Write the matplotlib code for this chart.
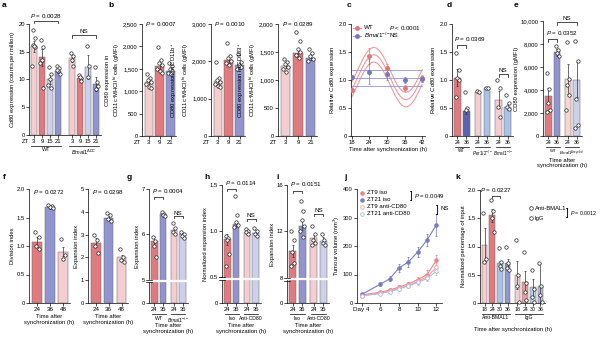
import numpy as np
import matplotlib
matplotlib.use("Agg")
import matplotlib.pyplot as plt
from matplotlib.ticker import FuncFormatter

plt.rcParams['font.family'] = ['Liberation Sans', 'DejaVu Sans']
plt.rcParams['mathtext.fontset'] = 'custom'
plt.rcParams['mathtext.rm'] = 'Liberation Sans'
plt.rcParams['mathtext.it'] = 'Liberation Sans:italic'
plt.rcParams['mathtext.bf'] = 'Liberation Sans:bold'
plt.rcParams['font.size'] = 4.2

# colours
PINK = '#f4cdd1'
RED = '#e07a7f'
LAV = '#cdd0eb'
BLUE = '#9195cf'
DBLUE = '#5b63b6'
LBLUE = '#a9c2e6'
PEACH = '#f5d6d0'

# ---------------- data ----------------
# a
a_ticks = ['3', '9', '15', '21', '3', '9', '15', '21']
a_mean = [16.0, 14.0, 10.0, 11.5, 13.8, 10.3, 12.3, 9.2]
a_err = [1.0, 1.5, 0.9, 0.4, 0.6, 0.4, 2.2, 1.2]
a_pts = [[19.0, 17.5, 16.2, 15.8, 12.5, 16.0], [17.2, 15.8, 13.5, 8.5, 13.0],
         [12.3, 11.0, 10.0, 8.5, 9.0], [12.5, 12.0, 11.5, 11.0, 11.8],
         [14.8, 14.2, 13.5, 12.5], [10.8, 10.2, 10.5, 9.8],
         [16.0, 12.5, 10.5], [12.3, 9.5, 8.3, 8.8]]
# b
b_ticks = ['3', '9', '21']
b1_mean = [1200, 1560, 1450]
b1_err = [40, 70, 35]
b1_pts = [[1380, 1300, 1250, 1200, 1150, 1100, 1080], [1980, 1700, 1620, 1580, 1500, 1450, 1400],
          [1640, 1560, 1500, 1450, 1400, 1380]]
b2_mean = [1480, 2030, 1900]
b2_err = [80, 80, 60]
b2_pts = [[1980, 1550, 1500, 1450, 1400, 1350, 1300], [2500, 2150, 2080, 2000, 1950, 1900],
          [2200, 1980, 1900, 1850, 1800]]
b3_mean = [1250, 1480, 1400]
b3_err = [35, 70, 40]
b3_pts = [[1380, 1330, 1280, 1230, 1200, 1150], [1850, 1700, 1560, 1500, 1450, 1400],
          [1560, 1480, 1420, 1380, 1340]]
# c
c_time = [18, 24, 30, 36, 42]
c_wt = [0.82, 1.43, 1.22, 0.86, 1.03]
c_wt_err = [0.04, 0.15, 0.07, 0.05, 0.06]
c_ko = [1.05, 1.15, 1.10, 1.00, 1.02]
c_ko_err = [0.04, 0.22, 0.10, 0.05, 0.05]
c_mesor, c_amp, c_acro, c_period, c_ci = 1.05, 0.40, 25.5, 22.0, 0.13
c_ko_lines = [0.90, 1.03, 1.17]
# d
d_ticks = ['24', '36', '24', '36', '24', '36']
d_mean = [1.04, 0.45, 0.79, 0.85, 0.65, 0.52]
d_err = [0.15, 0.05, 0.02, 0.01, 0.15, 0.05]
d_pts = [[1.48, 1.18, 1.03, 1.0, 0.7], [0.79, 0.5, 0.46], [0.8, 0.78], [0.86, 0.85],
         [1.0, 0.86, 0.52, 0.34], [0.73, 0.59, 0.52, 0.48]]
# e
e_ticks = ['24', '36', '24', '36']
e_mean = [3500, 7300, 4950, 4900]
e_err = [700, 300, 1300, 1500]
e_pts = [[5500, 4100, 2900, 2300, 2100], [7800, 7500, 7200, 7000],
         [8200, 5000, 4400, 3600, 2300], [8300, 6500, 3200, 1000, 700]]
# f
f_ticks = ['24', '36', '48']
f1_mean = [1.07, 1.68, 0.90]
f1_err = [0.08, 0.03, 0.08]
f1_pts = [[1.25, 1.15, 1.0, 0.95], [1.72, 1.70, 1.68, 1.66], [1.12, 0.85, 0.78]]
f2_mean = [2.65, 3.75, 2.0]
f2_err = [0.2, 0.08, 0.1]
f2_pts = [[3.0, 2.75, 2.5, 2.2], [3.95, 3.85, 3.7, 3.6], [2.35, 2.0, 1.9, 1.8]]
# g
g_mean = [5.85, 6.45, 6.10, 6.00]
g_err = [0.1, 0.03, 0.05, 0.03]
g_pts = [[5.95, 5.85, 5.75, 5.5], [6.5, 6.45, 6.42, 6.4], [6.25, 6.15, 6.05, 6.0], [6.05, 6.0, 5.97, 5.92]]
# h
h_mean = [0.91, 1.08, 0.99, 0.98]
h_err = [0.06, 0.03, 0.02, 0.03]
h_pts = [[0.95, 0.93, 0.9, 0.75, 0.62], [1.38, 1.18, 1.1, 1.07, 1.05],
         [1.02, 1.0, 0.99, 0.97], [1.03, 1.0, 0.97, 0.95]]
# i
i_mean = [10.3, 12.5, 11.4, 11.2]
i_err = [0.5, 0.4, 0.3, 0.3]
i_pts = [[12.0, 11.3, 10.2, 9.3, 9.0], [14.6, 13.8, 13.0, 12.5, 12.0, 11.5],
         [12.5, 11.8, 11.3, 11.0, 10.8], [11.8, 11.3, 11.0, 10.8]]
# j
j_days = [4, 6, 7, 8, 9, 10, 11, 12]
j_zt9_iso = [28, 38, 45, 56, 67, 82, 100, 150]
j_zt9_iso_err = [4, 5, 6, 8, 8, 10, 15, 18]
j_zt21_iso = [30, 66, 85, 123, 144, 179, 221, 274]
j_zt21_iso_err = [5, 6, 8, 15, 18, 18, 22, 38]
j_zt9_anti = [26, 35, 42, 52, 62, 76, 92, 125]
j_zt9_anti_err = [3, 4, 5, 6, 7, 8, 10, 15]
j_zt21_anti = [25, 33, 40, 49, 60, 72, 86, 112]
j_zt21_anti_err = [3, 4, 5, 6, 7, 8, 10, 14]
# k
k_ticks = ['18', '24', '30', '36', '18', '24', '30', '36']
k_mean = [1.02, 1.55, 0.70, 0.70, 0.50, 0.37, 0.28, 0.30]
k_err = [0.3, 0.12, 0.05, 0.08, 0.25, 0.2, 0.15, 0.4]
k_pts = [[1.6, 0.78, 0.72], [1.82, 1.62, 1.5, 1.25], [0.98, 0.72, 0.65, 0.6], [1.0, 0.7, 0.62, 0.58],
         [1.12, 0.5, 0.3, 0.02], [0.9, 0.35, 0.2, 0.05], [0.58, 0.25, 0.1, 0.02], [0.7, 0.3, 0.15, 0.02]]

JIT = np.array([-0.16, 0.14, -0.05, 0.2, -0.22, 0.06, 0.22])

W, H = 600, 347
fig = plt.figure(figsize=(6, 3.47), dpi=100)


def make_ax(x0, x1, y0, y1):
    return fig.add_axes([x0 / W, 1 - y1 / H, (x1 - x0) / W, (y1 - y0) / H])


def style(ax):
    for s in ['top', 'right']:
        ax.spines[s].set_visible(False)
    for s in ['left', 'bottom']:
        ax.spines[s].set_linewidth(0.5)
    ax.tick_params(length=2, width=0.5, labelsize=4.2, pad=1)


def bars(ax, pos, means, errs, pts, colors):
    ax.bar(pos, means, width=0.74, color=colors, edgecolor='#666666', linewidth=0.35, zorder=1)
    ax.errorbar(pos, means, yerr=errs, fmt='none', ecolor='#333333', elinewidth=0.5,
                capsize=1, capthick=0.5, zorder=2)
    for p, vals in zip(pos, pts):
        ax.scatter(p + JIT[:len(vals)] * 0.9, vals, s=6, facecolor='white', edgecolor='#222222',
                   linewidth=0.5, zorder=3, clip_on=False)
    ax.set_xticks(pos)


def bracket(ax, x1, x2, y, dy, txt=None, ty=None, ha='center', tx=None):
    ax.plot([x1, x1, x2, x2], [y - dy, y, y, y - dy], color='k', lw=0.5, clip_on=False)
    if txt:
        ax.text((x1 + x2) / 2 if tx is None else tx, y + dy * 0.4 if ty is None else ty, txt,
                ha=ha, va='bottom', fontsize=4.5, clip_on=False)


def groups(ax, spans, labels, y=-0.095, fs=3.7):
    tr = ax.get_xaxis_transform()
    for (x1, x2), lab in zip(spans, labels):
        ax.plot([x1, x2], [y, y], transform=tr, color='k', lw=0.5, clip_on=False)
        ax.text((x1 + x2) / 2, y - 0.015, lab, transform=tr, ha='center', va='top', fontsize=fs)


def letter(x, y, s):
    fig.text(x / W, 1 - y / H, s, fontsize=6, fontweight='bold', va='top', ha='left')


def broken(ax, b, r, ymax, yb):
    f = lambda v: np.where(v < b, v * r, b * r + (v - b))
    inv = lambda u: np.where(u < b * r, u / r, u - b * r + b)
    ax.set_yscale('function', functions=(f, inv))
    ax.set_ylim(0, ymax)
    frac = float(f(np.array(yb)) / f(np.array(ymax)))
    ax.plot([-0.08, 1.02], [frac, frac], transform=ax.transAxes, color='white', lw=1.6,
            clip_on=False, zorder=6)
    for d in (-0.012, 0.012):
        ax.plot([-0.07, 0.07], [frac + d, frac + d], transform=ax.transAxes, color='k', lw=0.5,
                clip_on=False, zorder=7)


comma = FuncFormatter(lambda v, p: f"{int(v):,}")
dec1 = FuncFormatter(lambda v, p: '0' if v == 0 else f"{v:.1f}")
P = r"$\it{P}$"

# ---------------- a ----------------
ax = make_ax(29, 101, 24, 135)
style(ax)
pos = [0, 1, 2, 3, 4.7, 5.7, 6.7, 7.7]
bars(ax, pos, a_mean, a_err, a_pts, [PINK, RED, LAV, BLUE] * 2)
ax.set_xticklabels(a_ticks)
ax.set_xlim(-0.6, 8.3)
ax.set_ylim(0, 20)
ax.set_yticks([0, 5, 10, 15, 20])
ax.set_ylabel(r"$\it{Cd80}$ expression (counts per million)", fontsize=4.2, labelpad=1)
ax.text(-1.0, -0.035, 'ZT', transform=ax.get_xaxis_transform(), ha='center', va='top', fontsize=4.2)
groups(ax, [(-0.3, 3.3), (4.4, 8.0)], ['WT', r"$\it{Bmal1}^{\Delta DC}$"], fs=4.0)
bracket(ax, 0, 3, 20.6, 0.5, P + ' = 0.0028')
bracket(ax, 4.7, 7.7, 18.0, 0.5, 'NS')
letter(2, 2, 'a')

# ---------------- b ----------------
b_specs = [
    (142, 176, b1_mean, b1_err, b1_pts, 2500, [0, 500, 1000, 1500, 2000, 2500], '0.0007',
     "CD80 expression in\nCD11c$^{+}$MHCII$^{\\rm hi}$ cells (gMFI)"),
    (211, 245, b2_mean, b2_err, b2_pts, 3000, [0, 1000, 2000, 3000], '0.0010',
     "CD80 expression in CD11b$^{+}$\nCD11c$^{+}$MHCII$^{\\rm hi}$ cells (gMFI)"),
    (278, 317, b3_mean, b3_err, b3_pts, 2000, [0, 500, 1000, 1500, 2000], '0.0289',
     "CD80 expression in CD103$^{+}$\nCD11c$^{+}$MHCII$^{\\rm hi}$ cells (gMFI)"),
]
for x0, x1, m, e, p, ymax, yt, pv, yl in b_specs:
    ax = make_ax(x0, x1, 24, 136)
    style(ax)
    bars(ax, [0, 1, 2], m, e, p, [PINK, RED, BLUE])
    ax.set_xticklabels(b_ticks)
    ax.set_xlim(-0.6, 2.5)
    ax.set_ylim(0, ymax)
    ax.set_yticks(yt)
    ax.yaxis.set_major_formatter(comma)
    ax.set_ylabel(yl, fontsize=4.2, labelpad=1)
    ax.text(-1.0, -0.035, 'ZT', transform=ax.get_xaxis_transform(), ha='center', va='top', fontsize=4.2)
    ax.text(0.1, 1.0, P + ' = ' + pv, transform=ax.transAxes, ha='left', va='center', fontsize=4.5)
letter(108, 2, 'b')

# ---------------- c ----------------
ax = make_ax(351, 425, 24, 136)
style(ax)
tt = np.linspace(18, 42, 200)
cen = c_mesor + c_amp * np.cos(2 * np.pi * (tt - c_acro) / c_period)
for off in (-c_ci, 0, c_ci):
    ax.plot(tt, cen + off, color='#ee9a9e', lw=0.8, zorder=1)
for yv in c_ko_lines:
    ax.plot([18, 42], [yv, yv], color='#8f94d0', lw=0.6, zorder=1)
ax.errorbar(c_time, c_wt, yerr=c_wt_err, fmt='o', ms=2.5, color='#e37479', ecolor='#e37479',
            elinewidth=0.5, capsize=1, capthick=0.5, zorder=3)
ax.errorbar(c_time, c_ko, yerr=c_ko_err, fmt='o', ms=2.5, color='#7277c0', ecolor='#7277c0',
            elinewidth=0.5, capsize=1, capthick=0.5, zorder=3)
ax.set_xlim(17.7, 43)
ax.set_xticks([18, 24, 30, 36, 42])
ax.set_ylim(0, 2.0)
ax.set_yticks([0, 0.5, 1.0, 1.5, 2.0])
ax.yaxis.set_major_formatter(dec1)
ax.set_ylabel(r"Relative $\it{Cd80}$ expression", fontsize=4.2, labelpad=1)
ax.set_xlabel("Time after synchronization (h)", fontsize=4.2, labelpad=1.5)
for yy, col, lab, st in [(0.965, '#e37479', 'WT', P + ' < 0.0001'),
                          (0.895, '#7277c0', r"$\it{Bmal1}^{-/-}$", 'NS')]:
    ax.plot([0.03, 0.13], [yy, yy], transform=ax.transAxes, color=col, lw=0.6, clip_on=False)
    ax.plot([0.08], [yy], 'o', ms=2.5, color=col, transform=ax.transAxes, clip_on=False)
    ax.text(0.17, yy, lab, transform=ax.transAxes, va='center', fontsize=4.5)
    ax.text(0.52, yy, st, transform=ax.transAxes, va='center', fontsize=4.5)
letter(347, 2, 'c')

# ---------------- d ----------------
ax = make_ax(452, 513, 24, 136)
style(ax)
pos = [0, 1, 2.3, 3.3, 4.6, 5.6]
bars(ax, pos, d_mean, d_err, d_pts, [RED, DBLUE, PINK, LBLUE, PINK, LBLUE])
ax.set_xticklabels(d_ticks, fontsize=3.8)
ax.set_xlim(-0.6, 6.2)
ax.set_ylim(0, 2.0)
ax.set_yticks([0, 0.5, 1.0, 1.5, 2.0])
ax.yaxis.set_major_formatter(dec1)
ax.set_ylabel(r"Relative $\it{Cd80}$ expression", fontsize=4.2, labelpad=1)
groups(ax, [(-0.3, 1.3), (2.0, 3.6), (4.3, 5.9)],
       ['WT', r"$\it{Per1/2}^{-/-}$", r"$\it{Bmal1}^{-/-}$"], fs=3.3)
bracket(ax, 0, 1, 1.62, 0.05)
ax.text(-0.35, 1.66, P + ' = 0.0369', ha='left', va='bottom', fontsize=4.5)
bracket(ax, 4.6, 5.6, 1.1, 0.05, 'NS')
letter(447, 2, 'd')

# ---------------- e ----------------
ax = make_ax(543, 582, 21, 136)
style(ax)
pos = [0, 1, 2.2, 3.2]
bars(ax, pos, e_mean, e_err, e_pts, [RED, BLUE, PEACH, LAV])
ax.set_xticklabels(e_ticks, fontsize=3.8)
ax.set_xlim(-0.6, 3.8)
ax.set_ylim(0, 10000)
ax.set_yticks([0, 2000, 4000, 6000, 8000, 10000])
ax.yaxis.set_major_formatter(comma)
ax.set_ylabel("CD80 expression (gMFI)", fontsize=4.2, labelpad=1)
groups(ax, [(-0.3, 1.3), (1.9, 3.5)], ['WT', r"$\it{Bmal1}^{\Delta myeloid}$"], fs=3.0)
bracket(ax, 0, 1, 8400, 250)
ax.text(-0.3, 8600, P + ' = 0.0352', ha='left', va='bottom', fontsize=4.5)
bracket(ax, 1, 3.2, 9900, 250, 'NS')
ax.set_xlabel("Time after\nsynchronization (h)", fontsize=4.2, labelpad=9)
letter(514, 2, 'e')

# ---------------- f ----------------
for x0, x1, m, e, p, ymax, yt, pv, yl, fmt in [
        (29, 70, f1_mean, f1_err, f1_pts, 2.0, [0, 0.5, 1.0, 1.5, 2.0], '0.0272', 'Division index', dec1),
        (88, 128, f2_mean, f2_err, f2_pts, 5, [0, 1, 2, 3, 4, 5], '0.0298', 'Expansion index', None)]:
    ax = make_ax(x0, x1, 189, 303)
    style(ax)
    bars(ax, [0, 1, 2], m, e, p, [RED, BLUE, PINK])
    ax.set_xticklabels(f_ticks, fontsize=4.5)
    ax.set_xlim(-0.6, 2.5)
    ax.set_ylim(0, ymax)
    ax.set_yticks(yt)
    if fmt is not None:
        ax.yaxis.set_major_formatter(fmt)
    ax.set_ylabel(yl, fontsize=4.2, labelpad=1)
    ax.set_xlabel("Time after\nsynchronization (h)", fontsize=4.2, labelpad=1.5)
    ax.text(0.1, 0.97, P + ' = ' + pv, transform=ax.transAxes, ha='left', va='center', fontsize=4.5)
letter(3, 174, 'f')

# ---------------- g ----------------
ax = make_ax(149, 188, 189, 303)
style(ax)
pos = [0, 1, 2.2, 3.2]
bars(ax, pos, g_mean, g_err, g_pts, [RED, BLUE, PINK, LAV])
ax.set_xticklabels(e_ticks)
ax.set_xlim(-0.6, 3.8)
broken(ax, 5, 0.102, 7, 4.75)
ax.set_yticks([0, 5, 6, 7])
ax.set_yticklabels(['0', '5', '6', '7'])
ax.yaxis.set_minor_locator(plt.NullLocator())
ax.set_ylabel("Expansion index", fontsize=4.2, labelpad=1)
groups(ax, [(-0.3, 1.3), (1.9, 3.5)], ['WT', r"$\it{Bmal1}^{-/-}$"])
bracket(ax, 0, 1, 6.82, 0.04)
ax.text(-0.3, 6.87, P + ' = 0.0004', ha='left', va='bottom', fontsize=4.5)
bracket(ax, 2.2, 3.2, 6.4, 0.04, 'NS')
ax.set_xlabel("Time after\nsynchronization (h)", fontsize=4.2, labelpad=8)
letter(127, 174, 'g')

# ---------------- h ----------------
ax = make_ax(222, 261, 185, 303)
style(ax)
bars(ax, pos, h_mean, h_err, h_pts, [RED, BLUE, PINK, LAV])
ax.set_xticklabels(e_ticks)
ax.set_xlim(-0.6, 3.8)
broken(ax, 0.5, 0.556, 1.5, 0.47)
ax.set_yticks([0, 0.5, 1.0, 1.5])
ax.set_yticklabels(['0', '0.5', '1.0', '1.5'])
ax.yaxis.set_minor_locator(plt.NullLocator())
ax.set_ylabel("Normalized expansion index", fontsize=4.2, labelpad=1)
groups(ax, [(-0.3, 1.3), (1.9, 3.5)], ['Iso', 'Anti-CD80'])
bracket(ax, 0, 1, 1.46, 0.02)
ax.text(-0.3, 1.48, P + ' = 0.0114', ha='left', va='bottom', fontsize=4.5)
bracket(ax, 2.2, 3.2, 1.13, 0.02, 'NS')
ax.set_xlabel("Time after\nsynchronization (h)", fontsize=4.2, labelpad=8)
letter(204, 174, 'h')

# ---------------- i ----------------
ax = make_ax(287, 329, 185, 303)
style(ax)
bars(ax, pos, i_mean, i_err, i_pts, [RED, BLUE, PINK, LAV])
ax.set_xticklabels(e_ticks)
ax.set_xlim(-0.6, 3.8)
broken(ax, 8, 0.269, 16, 7.6)
ax.set_yticks([0, 8, 12, 16])
ax.set_yticklabels(['0', '8', '12', '16'])
ax.yaxis.set_minor_locator(plt.NullLocator())
ax.set_ylabel("Expansion index", fontsize=4.2, labelpad=1)
groups(ax, [(-0.3, 1.3), (1.9, 3.5)], ['Iso', 'Anti-CD80'])
bracket(ax, 0, 1, 15.5, 0.15)
ax.text(-0.3, 15.7, P + ' = 0.0151', ha='left', va='bottom', fontsize=4.5)
bracket(ax, 2.2, 3.2, 13.5, 0.15, 'NS')
ax.set_xlabel("Time after\nsynchronization (h)", fontsize=4.2, labelpad=8)
letter(276, 174, 'i')

# ---------------- j ----------------
ax = make_ax(357, 442, 189, 303)
style(ax)
series = [(j_zt9_iso, j_zt9_iso_err, '#e8868b', '#e8868b', 'ZT9 iso'),
          (j_zt21_iso, j_zt21_iso_err, '#777cc2', '#777cc2', 'ZT21 iso'),
          (j_zt9_anti, j_zt9_anti_err, '#f0a3a7', 'white', 'ZT9 anti-CD80'),
          (j_zt21_anti, j_zt21_anti_err, '#b3b6de', 'white', 'ZT21 anti-CD80')]
for vals, err, col, face, lab in series:
    ax.errorbar(j_days, vals, yerr=err, color=col, lw=0.8, marker='o', ms=2.6, mfc=face, mec=col,
                mew=0.6, elinewidth=0.5, capsize=1, capthick=0.5)
ax.set_xlim(3.5, 12.6)
ax.set_xticks([4, 6, 8, 10, 12])
ax.set_xticklabels(['Day 4', '6', '8', '10', '12'], fontsize=4.5)
ax.set_ylim(0, 400)
ax.set_yticks([0, 100, 200, 300, 400])
ax.set_ylabel("Tumour volume (mm$^{3}$)", fontsize=4.2, labelpad=1)
rows = [0.965, 0.905, 0.845, 0.785]
for yy, (vals, err, col, face, lab) in zip(rows, series):
    ax.plot([0.06], [yy], 'o', ms=2.6, mfc=face, mec=col, mew=0.6, transform=ax.transAxes, clip_on=False)
    ax.text(0.12, yy, lab, transform=ax.transAxes, va='center', fontsize=4.3)
ax.text(0.62, 0.935, ']', transform=ax.transAxes, va='center', fontsize=7, fontweight='light')
ax.text(0.67, 0.935, P + ' = 0.0049', transform=ax.transAxes, va='center', fontsize=4.3)
ax.text(0.93, 0.815, ']', transform=ax.transAxes, va='center', fontsize=7, fontweight='light')
ax.text(0.98, 0.825, 'NS', transform=ax.transAxes, va='center', fontsize=4.3)
letter(344, 174, 'j')

# ---------------- k ----------------
ax = make_ax(480, 545, 190, 303)
style(ax)
pos = [0, 1, 2, 3, 4.3, 5.3, 6.3, 7.3]
bars(ax, pos, k_mean, k_err, k_pts,
     [PINK, RED, LBLUE, BLUE, PINK, '#e99ea2', '#bccbe9', '#b7bae2'])
ax.set_xticklabels(k_ticks, fontsize=3.8)
ax.set_xlim(-0.6, 7.9)
ax.set_ylim(0, 2.0)
ax.set_yticks([0, 0.5, 1.0, 1.5, 2.0])
ax.yaxis.set_major_formatter(dec1)
ax.set_ylabel("Normalized percentage of input", fontsize=4.2, labelpad=1)
groups(ax, [(-0.3, 3.3), (4.0, 7.6)], ['Anti-BMAL1', 'IgG'])
bracket(ax, 1, 2, 1.9, 0.05)
ax.text(1.5, 1.93, P + ' = 0.0227', ha='center', va='bottom', fontsize=4.5)
for yy, lab in [(0.84, 'Anti-BMAL1'), (0.75, 'IgG')]:
    ax.plot([0.79], [yy], 'o', ms=2.6, mfc='white', mec='#222222', mew=0.5,
            transform=ax.transAxes, clip_on=False)
    ax.text(0.84, yy, lab, transform=ax.transAxes, va='center', fontsize=4.2)
ax.text(1.33, 0.795, ']', transform=ax.transAxes, va='center', fontsize=7, fontweight='light')
ax.text(1.38, 0.795, P + ' = 0.0012', transform=ax.transAxes, va='center', fontsize=3.8)
ax.set_xlabel("Time after synchronization (h)", fontsize=4.2, labelpad=11)
letter(455, 174, 'k')

fig.savefig("out.png", dpi=100)
